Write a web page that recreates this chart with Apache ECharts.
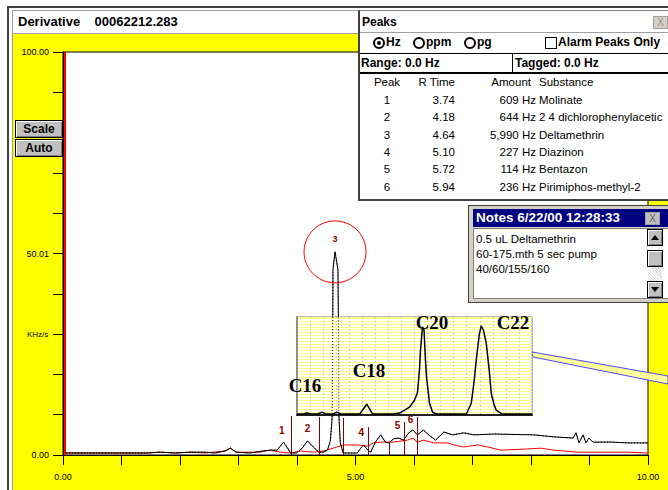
<!DOCTYPE html>
<html>
<head>
<meta charset="utf-8">
<script src="https://cdn.jsdelivr.net/npm/echarts@6/dist/echarts.min.js"></script>
<style>
body { margin:0; width:668px; height:490px; overflow:hidden; background:#fff; position:relative; font-family:"Liberation Sans", Arial, sans-serif; color:#000; }
.abs { position:absolute; }
#frame { left:7px; top:6px; width:670px; height:490px; border-left:2px solid #404040; border-top:2px solid #404040; box-sizing:border-box; }
#inner { left:12px; top:10px; width:670px; height:490px; border-left:1px solid #a0a0a0; border-top:1px solid #a0a0a0; box-sizing:border-box; }
#titlebar { left:13px; top:11px; width:660px; height:22px; background:#fff; border-bottom:1px solid #a0a0a0; font-weight:bold; font-size:13px; line-height:22px; padding-left:5px; white-space:pre; }
#yellow { left:13px; top:34px; width:660px; height:460px; background:#ffff00; }
#main { left:0; top:0; width:668px; height:490px; }
.btn { width:46px; height:16px; background:#c0c0c0; border:1px solid #000; box-shadow: inset 1px 1px #fff, inset -1px -1px #808080; font-weight:bold; font-size:12px; line-height:16px; text-align:center; }
#peaks { left:358px; top:10px; width:314px; height:191px; background:#fff; border-left:2px solid #404040; border-top:1px solid #808080; border-bottom:2px solid #404040; box-sizing:border-box; overflow:hidden; }
#peaks .ttl { left:0; top:0; width:320px; height:21px; border-bottom:1px solid #a0a0a0; font-weight:bold; font-size:12px; line-height:22px; padding-left:2px; }
.xbtn { width:13px; height:11px; background:#d4d0c8; border:1px solid #a0a0a0; color:#909090; font-size:10px; line-height:11px; text-align:center; }
.radio { width:8px; height:8px; border:2px solid #000; border-radius:50%; }
.radio.on::after { content:""; position:absolute; left:2px; top:2px; width:4px; height:4px; border-radius:50%; background:#000; }
.bold12 { font-weight:bold; font-size:12px; line-height:14px; white-space:nowrap; }
.chk { width:10px; height:10px; border:1px solid #000; background:#fff; }
#rangeRow { left:0; top:42px; width:320px; height:18px; border-top:1px solid #000; border-bottom:2px solid #000; }
.prow { left:0; width:320px; height:16px; font-size:11.5px; line-height:16px; white-space:nowrap; }
.prow span { position:absolute; top:0; }
.c1 { left:7px; width:40px; text-align:center; }
.c2 { left:40px; width:55px; text-align:right; }
.c3 { left:96px; width:80px; text-align:right; }
.c4 { left:179px; }
#notes { left:468px; top:205px; width:204px; height:98px; background:#d4d0c8; border:1px solid #404040; box-sizing:border-box; }
#notes .ttl { left:4px; top:3px; width:200px; height:18px; background:#000080; color:#fff; font-weight:bold; font-size:13.5px; line-height:18px; padding-left:3px; white-space:nowrap; }
#notes .body { left:4px; top:22px; width:198px; height:71px; background:#fff; border:1px solid #808080; box-sizing:border-box; font-size:11.5px; line-height:15px; padding:3px 0 0 2px; white-space:nowrap; }
.sb { width:16px; background:#c0c0c0; border:1px solid #000; box-shadow: inset 1px 1px #fff, inset -1px -1px #808080; box-sizing:border-box; }
.arrow { width:0; height:0; border-left:4px solid transparent; border-right:4px solid transparent; }
</style>
</head>
<body>
<div id="frame" class="abs"></div>
<div id="inner" class="abs"></div>
<div id="titlebar" class="abs">Derivative    00062212.283</div>
<div id="yellow" class="abs"></div>
<div id="main" class="abs"></div>

<div class="abs btn" style="left:15px;top:120px;">Scale</div>
<div class="abs btn" style="left:15px;top:139px;">Auto</div>

<div id="peaks" class="abs">
  <div class="abs ttl">Peaks</div>
  <div class="abs xbtn" style="left:293px;top:5px;">X</div>
  <div class="abs radio on" style="left:13px;top:26px;"></div>
  <div class="abs bold12" style="left:26px;top:24px;">Hz</div>
  <div class="abs radio" style="left:53px;top:26px;"></div>
  <div class="abs bold12" style="left:66px;top:24px;">ppm</div>
  <div class="abs radio" style="left:104px;top:26px;"></div>
  <div class="abs bold12" style="left:117px;top:24px;">pg</div>
  <div class="abs chk" style="left:185px;top:26px;"></div>
  <div class="abs bold12" style="left:198px;top:24px;">Alarm Peaks Only</div>
  <div id="rangeRow" class="abs">
    <div class="abs bold12" style="left:1px;top:2px;">Range: 0.0 Hz</div>
    <div class="abs" style="left:152px;top:0;width:1px;height:18px;background:#000;"></div>
    <div class="abs bold12" style="left:155px;top:2px;">Tagged: 0.0 Hz</div>
  </div>
  <div id="peakRows"></div>
</div>

<div id="notes" class="abs">
  <div class="abs ttl">Notes 6/22/00 12:28:33</div>
  <div class="abs xbtn" style="left:176px;top:6px;color:#606060;background:#c0c0c0;">X</div>
  <div class="abs body" id="noteBody"></div>
  <div class="abs sb" style="left:178px;top:23px;height:17px;"><div class="abs arrow" style="left:3px;top:5px;border-bottom:5px solid #000;"></div></div>
  <div class="abs sb" style="left:178px;top:44px;height:17px;"></div>
  <div class="abs" style="left:179px;top:61px;width:14px;height:14px;background:repeating-linear-gradient(45deg,#e0e0e0 0 1px,#ffffff 1px 2px);"></div>
  <div class="abs sb" style="left:178px;top:75px;height:17px;"><div class="abs arrow" style="left:3px;top:5px;border-top:5px solid #000;"></div></div>
</div>

<script>
// 主图: 保留时间 (min) / 导数信号 (KHz/s)
const derivTime = [0, 1.44, 1.66, 1.92, 2.17, 2.43, 2.60, 2.77, 2.86, 2.96, 3.20, 3.41, 3.54, 3.66, 3.77, 3.84, 3.89, 3.99,
  4.09, 4.18, 4.28, 4.37, 4.45, 4.52, 4.57, 4.60, 4.61, 4.615, 4.65, 4.70, 4.71, 4.715, 4.74, 4.79, 5.03, 5.09, 5.14, 5.21,
  5.26, 5.34, 5.43, 5.51, 5.57, 5.65, 5.74, 5.82, 5.91, 5.98, 6.06, 6.16, 6.25, 6.37, 6.51, 6.66, 6.85, 7.02, 7.36, 8.05,
  8.39, 8.72, 8.77, 8.82, 8.89, 8.94, 8.99, 9.06, 9.37, 9.66, 10.0];
const derivValue = [0.5, 0.5, 0.7, 0.5, 0.7, 0.7, 0.5, 1.0, 1.7, 0.7, 0.5, 1.0, 1.2, 1.2, 3.2, 1.7, 0.5, 0.5,
  1.7, 3.5, 2.0, 0.7, 0.7, 1.2, 3.5, 9.0, 30, 46, 50.4, 46, 30, 10, 3.0, 0.5, 0.5, 1.7, 2.5, 1.2,
  0.7, 3.2, 5.0, 3.2, 3.0, 4.0, 4.2, 3.7, 5.5, 6.2, 5.0, 6.2, 5.0, 3.7, 5.7, 5.0, 5.5, 5.0, 5.2, 5.0,
  4.5, 4.2, 5.5, 3.0, 5.0, 3.0, 4.2, 3.2, 3.2, 3.0, 3.0];
// 红色参考曲线
const refTime = [0, 1.44, 1.66, 1.92, 2.17, 2.43, 2.77, 2.86, 2.96, 3.37, 3.54, 3.72, 3.89, 4.06, 4.28, 4.45, 4.62, 4.79,
  5.03, 5.21, 5.31, 5.43, 5.65, 5.89, 5.98, 6.06, 6.16, 6.34, 6.58, 6.68, 6.85, 7.09, 7.26, 7.48, 7.95, 8.17, 8.39, 8.80, 9.66, 10.0];
const refValue = [0.5, 0.5, 0.7, 0.5, 0.7, 0.5, 1.0, 1.7, 0.7, 0.7, 1.2, 0.7, 0.5, 1.0, 0.7, 1.0, 1.7, 2.5,
  2.5, 2.2, 3.0, 3.2, 3.2, 3.7, 4.2, 3.2, 3.7, 3.0, 3.0, 2.5, 2.0, 2.5, 2.0, 1.2, 1.5, 1.7, 1.2, 0.7, 0.7, 0.5];

// 峰表
const peakNo = [1, 2, 3, 4, 5, 6];
const peakRT = [3.74, 4.18, 4.64, 5.10, 5.72, 5.94];
const peakAmount = ['609 Hz', '644 Hz', '5,990 Hz', '227 Hz', '114 Hz', '236 Hz'];
const peakSubstance = ['Molinate', '2 4 dichlorophenylacetic', 'Deltamethrin', 'Diazinon', 'Bentazon', 'Pirimiphos-methyl-2'];
const peakLabelLevel = [6.0, 6.5, 50.4, 5.5, 7.2, 8.9];
// 峰边界竖线
const boundTime = [3.90, 4.38, 4.79, 5.22, 5.58, 5.84, 6.06];
const boundTop = [9.7, 9.4, 9.2, 6.9, 3.0, 8.2, 9.4];

// 插图 (C16-C22 标准)
const insetTime = [0, 0.46, 0.76, 1.07, 1.60, 1.91, 2.21, 2.75, 3.05, 3.36, 4.81, 5.34, 5.80, 7.32, 7.86, 8.24, 8.62, 9.00,
  9.23, 9.38, 9.46, 9.61, 9.73, 9.84, 9.92, 10.15, 10.38, 10.68, 12.97, 13.35, 13.58, 13.73, 13.96, 14.11, 14.27, 14.50,
  14.72, 14.88, 15.11, 15.26, 15.72, 18.0];
const insetValue = [1, 1, 2, 1, 1, 3, 1, 1, 3, 1, 1, 11, 1, 1, 2, 5, 8, 15,
  23, 46, 66, 90, 87, 56, 39, 12, 3, 1, 1, 12, 36, 56, 82, 91, 87, 73,
  46, 22, 10, 5, 1, 1];
const insetNames = ['C16', 'C18', 'C20', 'C22'];

const xTickValues = [0, 5, 10];
const xTickLabels = ['0.00', '5.00', '10.00'];
const yTickValues = [0, 50, 100];
const yTickLabels = ['0.00', '50.01', '100.00'];
const noteLines = ['0.5 uL Deltamethrin', '60-175.mth 5 sec pump', '40/60/155/160'];

// 峰表 (HTML)
const rows = document.getElementById('peakRows');
const head = document.createElement('div');
head.className = 'abs prow';
head.style.top = '63px';
head.innerHTML = '<span class="c1">Peak</span><span class="c2">R Time</span><span class="c3" style="padding-right:5px;box-sizing:border-box;">Amount</span><span class="c4">Substance</span>';
rows.appendChild(head);
peakNo.forEach((n, i) => {
  const r = document.createElement('div');
  r.className = 'abs prow';
  r.style.top = (81 + i * 17.3) + 'px';
  r.innerHTML = '<span class="c1">' + n + '</span><span class="c2">' + peakRT[i].toFixed(2) +
    '</span><span class="c3">' + peakAmount[i] + '</span><span class="c4">' + peakSubstance[i] + '</span>';
  rows.appendChild(r);
});
document.getElementById('noteBody').innerHTML = noteLines.join('<br>');

const zip = (a, b) => a.map((v, i) => [v, b[i]]);
const fmt = (vals, labels) => v => { const k = vals.indexOf(Math.round(v * 100) / 100); return k < 0 ? '' : labels[k]; };
const darkRed = '#8b0000';

const myChart = echarts.init(document.getElementById('main'), null, { renderer: 'svg' });
myChart.setOption({
  animation: false,
  backgroundColor: 'transparent',
  textStyle: { fontFamily: 'Liberation Sans' },
  grid: [
    { left: 63, top: 52, right: 20, bottom: 35, show: true, backgroundColor: '#fff', borderColor: '#000', borderWidth: 1, z: 0 },
    { left: 297, top: 317, width: 235, height: 98, show: true, backgroundColor: '#fff', borderColor: '#808080', borderWidth: 1, z: 5 }
  ],
  xAxis: [
    {
      type: 'value', gridIndex: 0, min: 0, max: 10, interval: 1,
      axisLine: { show: true, onZero: false, lineStyle: { color: '#000', width: 1 } },
      axisTick: { show: true, length: 10, lineStyle: { color: '#000' } },
      axisLabel: { fontSize: 9, color: '#000', margin: 17, formatter: fmt(xTickValues, xTickLabels) },
      splitLine: { show: false }
    },
    {
      type: 'value', gridIndex: 1, min: 0, max: 18, interval: 1, z: 6,
      axisLine: { show: true, onZero: false, lineStyle: { color: '#202020', width: 2 } },
      axisTick: { show: false }, axisLabel: { show: false },
      splitLine: { show: true, lineStyle: { color: '#b0b0b0', type: [1, 3], width: 1 } }
    }
  ],
  yAxis: [
    {
      type: 'value', gridIndex: 0, min: 0, max: 100, interval: 10,
      axisLine: { show: true, lineStyle: { color: '#000', width: 1 } },
      axisTick: { show: true, length: 10, lineStyle: { color: '#000' } },
      axisLabel: { fontSize: 9, color: '#000', margin: 14, formatter: fmt(yTickValues, yTickLabels) },
      splitLine: { show: false }
    },
    {
      type: 'value', gridIndex: 1, min: 0, max: 100, interval: 3, z: 6,
      axisLine: { show: true, lineStyle: { color: '#909090', width: 2 } },
      axisTick: { show: false }, axisLabel: { show: false },
      splitLine: { show: true, lineStyle: { color: '#ffff80', width: 1 } }
    }
  ],
  series: [
    {
      name: 'Reference', type: 'line', xAxisIndex: 0, yAxisIndex: 0, z: 2,
      data: zip(refTime, refValue), showSymbol: false, silent: true,
      lineStyle: { color: '#ff0000', width: 1 },
      markLine: {
        silent: true, symbol: ['none', 'none'], label: { show: false },
        lineStyle: { color: '#ff0000', width: 2, type: 'solid' },
        data: [{ xAxis: 0.025 }]
      }
    },
    {
      name: 'Derivative', type: 'line', xAxisIndex: 0, yAxisIndex: 0, z: 3,
      data: zip(derivTime, derivValue), showSymbol: false, silent: true,
      lineStyle: { color: '#000', width: 1 },
      markLine: {
        silent: true, symbol: ['none', 'none'], label: { show: false },
        lineStyle: { color: darkRed, width: 1, type: 'solid' },
        data: boundTime.map((t, i) => [{ coord: [t, 0] }, { coord: [t, boundTop[i]] }])
      },
      markPoint: {
        silent: true,
        data: peakNo.map((n, i) => n === 3 ? {
          coord: [4.65, peakLabelLevel[i]], value: n, symbol: 'circle', symbolSize: 62,
          itemStyle: { color: 'rgba(0,0,0,0)', borderColor: '#ff0000', borderWidth: 1 },
          label: { show: true, position: 'inside', offset: [0, -13], color: darkRed, fontSize: 9, fontWeight: 'bold', formatter: String(n) }
        } : {
          coord: [peakRT[i], peakLabelLevel[i]], value: n, symbol: 'circle', symbolSize: 1,
          itemStyle: { color: 'rgba(0,0,0,0)' },
          label: { show: true, position: 'inside', color: darkRed, fontSize: 10, fontWeight: 'bold', formatter: String(n) }
        })
      }
    },
    {
      name: 'Standards', type: 'line', xAxisIndex: 1, yAxisIndex: 1, z: 7,
      data: zip(insetTime, insetValue), showSymbol: false, silent: true,
      lineStyle: { color: '#000', width: 1.5 }
    },
    {
      name: 'DerivativeOver', type: 'line', xAxisIndex: 0, yAxisIndex: 0, z: 8,
      data: zip(derivTime, derivValue), showSymbol: false, silent: true,
      lineStyle: { color: '#000', width: 1, type: [1, 2] }
    }
  ],
  graphic: [
    { type: 'text', left: 27, top: 330, z: 10, style: { text: 'KHz/s', fontSize: 8, fill: '#000', fontFamily: 'Liberation Sans' } },
    {
      type: 'polygon', z: 4,
      shape: { points: [[532, 352], [668, 376], [668, 384], [533, 357]] },
      style: { fill: '#ffff99', stroke: '#4a4aff', lineWidth: 1 }
    },
    { type: 'text', x: 305, y: 385, z: 10, style: { text: insetNames[0], align: 'center', verticalAlign: 'middle', font: 'bold 19px "Liberation Serif"', fill: '#000' } },
    { type: 'text', x: 369, y: 370, z: 10, style: { text: insetNames[1], align: 'center', verticalAlign: 'middle', font: 'bold 19px "Liberation Serif"', fill: '#000' } },
    { type: 'text', x: 432, y: 322, z: 10, style: { text: insetNames[2], align: 'center', verticalAlign: 'middle', font: 'bold 19px "Liberation Serif"', fill: '#000' } },
    { type: 'text', x: 513, y: 322, z: 10, style: { text: insetNames[3], align: 'center', verticalAlign: 'middle', font: 'bold 19px "Liberation Serif"', fill: '#000' } }
  ]
});
</script>
</body>
</html>
